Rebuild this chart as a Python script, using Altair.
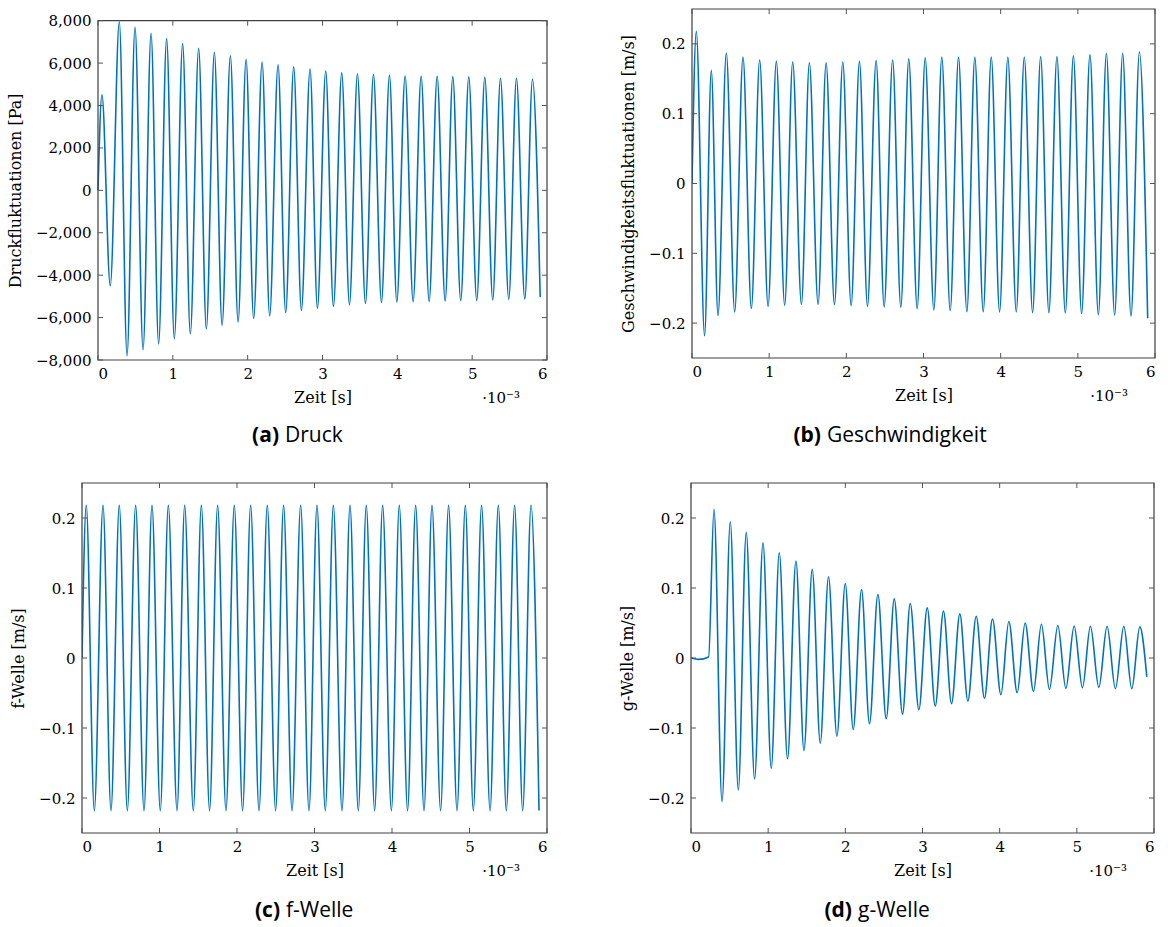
import altair as alt
import pandas as pd

BLUE = "#0072BD"
FRAME = "#404040"
TICKC = "#555555"
SERIF = "DejaVu Serif"
SANS = "Open Sans"

X_TICKS = [0, 1, 2, 3, 4, 5, 6]
X_DOMAIN = [0, 6]
X_TITLE = "Zeit [s]"
X_EXP = "·10⁻³"

# ---------------- (a) Druck : time in 10^-3 s, pressure in Pa ----------------
A_START_T = [0.0]
A_START_V = [0]
A_PEAK_T = [0.053, 0.285, 0.495, 0.709, 0.917, 1.131, 1.345, 1.555, 1.769, 1.979,
            2.193, 2.406, 2.615, 2.834, 3.043, 3.257, 3.467, 3.681, 3.895, 4.104,
            4.318, 4.532, 4.741, 4.955, 5.169, 5.378, 5.592, 5.806]
A_PEAK_V = [4500, 7950, 7690, 7405, 7155, 6920, 6700, 6510, 6340, 6180,
            6055, 5915, 5830, 5725, 5630, 5540, 5490, 5460, 5425, 5395,
            5380, 5380, 5365, 5350, 5330, 5285, 5285, 5240]
A_TROUGH_T = [0.164, 0.388, 0.602, 0.810, 1.020, 1.234, 1.448, 1.658, 1.872, 2.080,
              2.294, 2.508, 2.718, 2.932, 3.146, 3.360, 3.574, 3.788, 3.993, 4.211,
              4.425, 4.639, 4.847, 5.061, 5.275, 5.489, 5.703]
A_TROUGH_V = [-4495, -7800, -7514, -7245, -6995, -6760, -6538, -6368, -6208, -6038,
              -5925, -5770, -5660, -5566, -5472, -5392, -5330, -5283, -5264, -5250,
              -5236, -5217, -5203, -5203, -5170, -5142, -5123]
A_END_T = [5.909]
A_END_V = [-5030]
A_Y_DOMAIN = [-8000, 8000]
A_Y_TICKS = [-8000, -6000, -4000, -2000, 0, 2000, 4000, 6000, 8000]

# ---------------- (b) Geschwindigkeit : m/s ----------------
B_START_T = [0.0]
B_START_V = [0.0]
B_PEAK_T = [0.056, 0.250, 0.445, 0.661, 0.877, 1.093, 1.305, 1.521, 1.738, 1.954,
            2.170, 2.386, 2.600, 2.809, 3.022, 3.237, 3.454, 3.665, 3.878, 4.093,
            4.306, 4.518, 4.729, 4.942, 5.157, 5.370, 5.581, 5.798]
B_PEAK_V = [0.218, 0.162, 0.187, 0.181, 0.177, 0.175, 0.174, 0.173, 0.173, 0.174,
            0.175, 0.176, 0.177, 0.1785, 0.180, 0.181, 0.181, 0.181, 0.181, 0.1813,
            0.1813, 0.182, 0.182, 0.183, 0.1847, 0.1865, 0.1865, 0.1885]
B_TROUGH_T = [0.163, 0.337, 0.553, 0.769, 0.986, 1.201, 1.418, 1.634, 1.846, 2.062,
              2.274, 2.490, 2.706, 2.918, 3.134, 3.346, 3.562, 3.774, 3.986, 4.202,
              4.414, 4.625, 4.838, 5.049, 5.266, 5.477, 5.689]
B_TROUGH_V = [-0.218, -0.189, -0.184, -0.179, -0.176, -0.1745, -0.173, -0.173, -0.1736, -0.175,
              -0.176, -0.177, -0.1773, -0.1793, -0.1812, -0.1822, -0.1836, -0.1836, -0.184, -0.184,
              -0.185, -0.185, -0.1855, -0.1865, -0.188, -0.1888, -0.1898]
B_END_T = [5.905]
B_END_V = [-0.193]

# ---------------- (c) f-Welle : m/s ----------------
C_START_T = [0.0]
C_START_V = [0.0]
C_PEAK_T = [0.055, 0.271, 0.481, 0.692, 0.903, 1.114, 1.325, 1.540, 1.750, 1.965,
            2.176, 2.391, 2.601, 2.821, 3.032, 3.243, 3.458, 3.668, 3.879, 4.094,
            4.305, 4.516, 4.730, 4.946, 5.156, 5.372, 5.582, 5.794]
C_PEAK_V = [0.218, 0.218, 0.218, 0.218, 0.218, 0.218, 0.218, 0.218, 0.218, 0.218,
            0.218, 0.218, 0.218, 0.218, 0.218, 0.218, 0.218, 0.218, 0.218, 0.218,
            0.218, 0.218, 0.218, 0.218, 0.218, 0.218, 0.218, 0.218]
C_TROUGH_T = [0.159, 0.374, 0.585, 0.800, 1.010, 1.226, 1.436, 1.646, 1.858, 2.072,
              2.284, 2.498, 2.710, 2.929, 3.139, 3.355, 3.565, 3.776, 3.992, 4.201,
              4.413, 4.627, 4.839, 5.049, 5.265, 5.475, 5.686]
C_TROUGH_V = [-0.218, -0.218, -0.218, -0.218, -0.218, -0.218, -0.218, -0.218, -0.218, -0.218,
              -0.218, -0.218, -0.218, -0.218, -0.218, -0.218, -0.218, -0.218, -0.218, -0.218,
              -0.218, -0.218, -0.218, -0.218, -0.218, -0.218, -0.218]
C_END_T = [5.897]
C_END_V = [-0.218]

# ---------------- (d) g-Welle : m/s ----------------
D_START_T = [0.0, 0.099, 0.228]
D_START_V = [0.0, -0.002, 0.0015]
D_PEAK_T = [0.298, 0.509, 0.716, 0.933, 1.144, 1.360, 1.571, 1.782, 1.999, 2.210,
            2.422, 2.634, 2.841, 3.061, 3.272, 3.484, 3.696, 3.907, 4.119, 4.330,
            4.541, 4.754, 4.965, 5.176, 5.392, 5.609, 5.816]
D_PEAK_V = [0.2125, 0.1947, 0.1795, 0.1646, 0.1503, 0.1384, 0.1266, 0.116, 0.1065, 0.0979,
            0.0908, 0.0845, 0.0779, 0.0716, 0.0669, 0.063, 0.0597, 0.0558, 0.0521, 0.0501,
            0.0482, 0.0464, 0.0458, 0.0454, 0.0454, 0.0454, 0.0444]
D_TROUGH_T = [0.402, 0.613, 0.824, 1.040, 1.251, 1.464, 1.675, 1.891, 2.102, 2.313,
              2.530, 2.741, 2.953, 3.165, 3.376, 3.588, 3.803, 4.016, 4.227, 4.438,
              4.645, 4.858, 5.073, 5.285, 5.500, 5.712]
D_TROUGH_V = [-0.2052, -0.1884, -0.1727, -0.1575, -0.1440, -0.1321, -0.1217, -0.1117, -0.1021, -0.0939,
              -0.0868, -0.0802, -0.0739, -0.0687, -0.0653, -0.0616, -0.0577, -0.0525, -0.0496, -0.0477,
              -0.0448, -0.0434, -0.0424, -0.042, -0.0439, -0.0439]
D_END_T = [5.907]
D_END_V = [-0.027]

V_Y_DOMAIN = [-0.25, 0.25]
V_Y_TICKS = [-0.2, -0.1, 0, 0.1, 0.2]


def series(*parts):
    t, v = [], []
    for tt, vv in parts:
        t += list(tt)
        v += list(vv)
    return pd.DataFrame({"t": t, "v": v}).sort_values("t").reset_index(drop=True)


def panel(df, W, H, xr, yr, ydom, yticks, yfmt, ytitle, yoff, letter, word, anchor, cap_y):
    xs = alt.Scale(domain=X_DOMAIN, range=xr, nice=False, zero=False)
    ys = alt.Scale(domain=ydom, range=yr, nice=False, zero=False)
    xax = alt.Axis(values=X_TICKS, format="d", title=X_TITLE, ticks=False,
                   domain=False, grid=False, labelPadding=6, titlePadding=8)
    yax = alt.Axis(values=yticks, format=yfmt, title=ytitle, ticks=False,
                   domain=False, grid=False, labelPadding=7, titlePadding=12, offset=yoff)

    def X(f):
        return alt.X(f, scale=xs, axis=xax)

    def Y(f):
        return alt.Y(f, scale=ys, axis=yax)

    main = alt.Chart(df).mark_line(color=BLUE, strokeWidth=1.6, interpolate="monotone", clip=True).encode(
        x=X("t:Q"), y=Y("v:Q"))

    frame_df = pd.DataFrame({"x0": [X_DOMAIN[0]], "x1": [X_DOMAIN[1]], "y0": [ydom[0]], "y1": [ydom[1]]})
    frame = alt.Chart(frame_df).mark_rect(fillOpacity=0, stroke=FRAME, strokeWidth=1.2).encode(
        x=X("x0:Q"), x2="x1:Q", y=Y("y0:Q"), y2="y1:Q")

    xt = pd.DataFrame({"tick": X_TICKS, "lo": [ydom[0]] * len(X_TICKS), "hi": [ydom[1]] * len(X_TICKS)})
    yt = pd.DataFrame({"tick": yticks, "l": [X_DOMAIN[0]] * len(yticks), "r": [X_DOMAIN[1]] * len(yticks)})
    tb = alt.Chart(xt).mark_rule(color=TICKC, strokeWidth=1, y2Offset=-5).encode(
        x=X("tick:Q"), y=Y("lo:Q"), y2="lo:Q")
    tt = alt.Chart(xt).mark_rule(color=TICKC, strokeWidth=1, y2Offset=5).encode(
        x=X("tick:Q"), y=Y("hi:Q"), y2="hi:Q")
    tl = alt.Chart(yt).mark_rule(color=TICKC, strokeWidth=1, x2Offset=5).encode(
        y=Y("tick:Q"), x=X("l:Q"), x2="l:Q")
    tr = alt.Chart(yt).mark_rule(color=TICKC, strokeWidth=1, x2Offset=-5).encode(
        y=Y("tick:Q"), x=X("r:Q"), x2="r:Q")

    txt = pd.DataFrame({"letter": [letter], "word": [word], "exp": [X_EXP]})
    exp = alt.Chart(txt).mark_text(font=SERIF, fontSize=15, align="right", baseline="middle", color="black").encode(
        text="exp:N", x=alt.value(W - 27), y=alt.value(H + 38))
    cap_l = alt.Chart(txt).mark_text(font=SANS, fontSize=21, fontWeight="bold", align="right",
                                     baseline="middle", color="black").encode(
        text="letter:N", x=alt.value(anchor - 3), y=alt.value(cap_y))
    cap_w = alt.Chart(txt).mark_text(font=SANS, fontSize=21, align="left", baseline="middle",
                                     color="black").encode(
        text="word:N", x=alt.value(anchor + 3), y=alt.value(cap_y))
    return alt.layer(main, frame, tb, tt, tl, tr, exp, cap_l, cap_w).properties(width=W, height=H)


dfa = series((A_START_T, A_START_V), (A_PEAK_T, A_PEAK_V), (A_TROUGH_T, A_TROUGH_V), (A_END_T, A_END_V))
dfb = series((B_START_T, B_START_V), (B_PEAK_T, B_PEAK_V), (B_TROUGH_T, B_TROUGH_V), (B_END_T, B_END_V))
dfc = series((C_START_T, C_START_V), (C_PEAK_T, C_PEAK_V), (C_TROUGH_T, C_TROUGH_V), (C_END_T, C_END_V))
dfd = series((D_START_T, D_START_V), (D_PEAK_T, D_PEAK_V), (D_TROUGH_T, D_TROUGH_V), (D_END_T, D_END_V))

pa = panel(dfa, 465, 351, [16, 465], [351, 11.7], A_Y_DOMAIN, A_Y_TICKS, ",d",
           "Druckfluktuationen [Pa]", -16, "(a)", "Druck", 200, 427)
pb = panel(dfb, 463, 349, [0, 463], [349, 0], V_Y_DOMAIN, V_Y_TICKS, ".1~f",
           "Geschwindigkeitsfluktuationen [m/s]", 0, "(b)", "Geschwindigkeit", 132, 427)
pc = panel(dfc, 465, 350, [0, 465], [350, 0], V_Y_DOMAIN, V_Y_TICKS, ".1~f",
           "f-Welle [m/s]", 0, "(c)", "f-Welle", 201, 428)
pd_ = panel(dfd, 463, 350, [0, 463], [350, 0], V_Y_DOMAIN, V_Y_TICKS, ".1~f",
            "g-Welle [m/s]", 0, "(d)", "g-Welle", 164, 428)

row1 = alt.hconcat(pa, pb, spacing=71)
row2 = alt.hconcat(pc, pd_, spacing=70)

chart = alt.vconcat(row1, row2, spacing=34).configure_view(
    stroke="transparent"
).configure_axis(
    labelFont=SERIF, labelFontSize=15, labelColor="black",
    titleFont=SERIF, titleFontSize=16, titleFontWeight="normal", titleColor="black",
).properties(background="white", padding={"left": 6, "top": 7, "right": 5, "bottom": 5})

chart.save("out.html", embed_options={"renderer": "svg", "actions": False})
